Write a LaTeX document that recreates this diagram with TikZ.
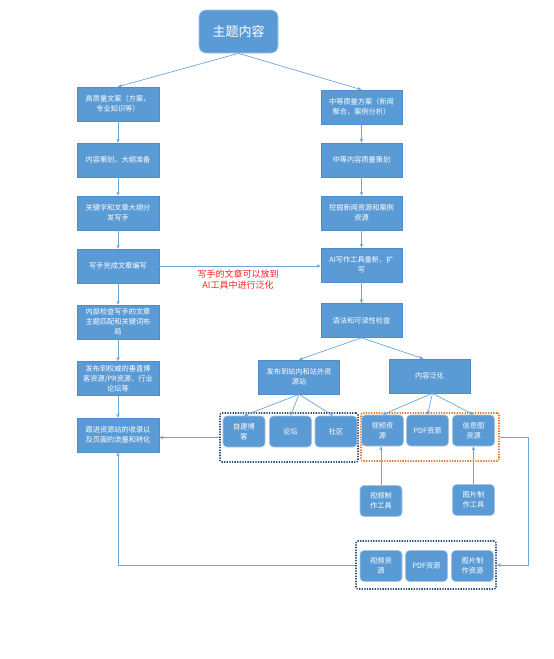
\documentclass[tikz,border=0pt]{standalone}
\usepackage{fontspec}
\setmainfont{Noto Sans CJK SC}
\usetikzlibrary{arrows.meta}
\definecolor{boxfill}{HTML}{5B9BD5}
\definecolor{boxline}{HTML}{4F8CC9}
\definecolor{softline}{HTML}{A9C4E0}
\definecolor{conn}{HTML}{6FA6DA}
\definecolor{navy}{HTML}{2E4F7C}
\definecolor{orng}{HTML}{E27A2E}
\definecolor{redtxt}{HTML}{FF2020}
\tikzset{
  sqbox/.style={draw=boxline, line width=0.6pt, fill=boxfill, text=white, align=center,
    inner sep=1pt, font=\fontsize{7.2}{10}\selectfont},
  rbox/.style={draw=softline, line width=0.6pt, fill=boxfill, text=white, align=center,
    rounded corners=4pt, inner sep=1pt, font=\fontsize{7.2}{10}\selectfont,
    minimum width=42pt, minimum height=31pt},
  titlebox/.style={draw=softline, line width=0.7pt, fill=boxfill, text=white, align=center,
    rounded corners=7pt, font=\fontsize{13}{15}\selectfont, minimum width=79pt, minimum height=43pt},
  arr/.style={draw=conn, line width=0.7pt, -{Stealth[length=4pt,width=3.5pt]}},
  dotcont/.style={draw=#1, line width=1.6pt, dash pattern=on 1.3pt off 1.3pt, rounded corners=2pt,
    minimum width=0pt, minimum height=0pt, inner sep=0pt},
}
\begin{document}
\begin{tikzpicture}[x=1pt,y=-1pt]
\useasboundingbox (0,0) rectangle (554,659);
\fill[white] (0,0) rectangle (554,659);

% containers
\node[dotcont=navy, minimum width=138pt, minimum height=49pt] (bc) at (289,437.5) {};
\node[dotcont=orng, minimum width=138pt, minimum height=48pt] (oc) at (430,437) {};
\node[dotcont=navy, minimum width=140pt, minimum height=48pt] (btc) at (426,565) {};

% title
\node[titlebox] (top) at (238.5,31.5) {主题内容};

% left column
\begin{scope}[every node/.style={sqbox, minimum width=82pt, minimum height=34pt}]
\node (L1) at (118,104) {高质量文案（方案，\\专业知识等）};
\node (L2) at (118,160) {内容策划，大纲准备};
\node (L3) at (118,213) {关键字和文章大纲分\\发写手};
\node (L4) at (118,266) {写手完成文章编写};
\node (L5) at (118,322) {内部检查写手的文章\\主题匹配和关键词布\\局};
\node (L6) at (118,378.5) {发布到权威的垂直博\\客资源/PR资源，行业\\论坛等};
\node (L7) at (118,435) {跟进资源站的收录以\\及页面的流量和转化};
\end{scope}

% right column
\begin{scope}[every node/.style={sqbox, minimum width=81pt, minimum height=34pt}]
\node (R1) at (361.5,107) {中等质量方案（新闻\\聚合，案例分析）};
\node (R2) at (361.5,160) {中等内容质量策划};
\node (R3) at (361.5,213) {挖掘新闻资源和案例\\资源};
\node (R4) at (361.5,265) {AI写作工具重新，扩\\写};
\node (R5) at (361.5,320.5) {语法和可读性检查};
\node (P) at (299,377) {发布到站内和站外资\\源站};
\node (G) at (429.5,376) {内容泛化};
\end{scope}

% small boxes
\node[rbox] (s1) at (244,431.5) {自建博\\客};
\node[rbox] (s2) at (290.5,431.5) {论坛};
\node[rbox] (s3) at (336,431.5) {社区};
\node[rbox] (s4) at (382.5,430.5) {视频资\\源};
\node[rbox] (s5) at (427.5,430.5) {PDF资源};
\node[rbox] (s6) at (473.5,430.5) {信息图\\资源};
\node[rbox] (t1) at (381,501) {视频制\\作工具};
\node[rbox] (t2) at (473.5,500) {图片制\\作工具};
\node[rbox] (b1) at (381,566) {视频资\\源};
\node[rbox] (b2) at (426.5,566) {PDF资源};
\node[rbox] (b3) at (472.5,566) {图片制\\作资源};

% red label
\node[text=redtxt, align=center, font=\fontsize{9}{11}\selectfont] (lbl) at (238,279.5) {写手的文章可以放到\\AI工具中进行泛化};

% connectors
\draw[arr] (top.south) -- (L1.north);
\draw[arr] (top.south) -- (R1.north);
\draw[arr] (L1) -- (L2);
\draw[arr] (L2) -- (L3);
\draw[arr] (L3) -- (L4);
\draw[arr] (L4) -- (L5);
\draw[arr] (L5) -- (L6);
\draw[arr] (L6) -- (L7);
\draw[arr] (R1) -- (R2);
\draw[arr] (R2) -- (R3);
\draw[arr] (R3) -- (R4);
\draw[arr] (R4) -- (R5);
\draw[arr] (L4.east) -- (L4.east -| R4.west);
\draw[arr] (R5.south) -- (P.north);
\draw[arr] (R5.south) -- ([xshift=-6pt]G.north);
\draw[arr] (P.south) -- (s1.north);
\draw[arr] (P.south) -- (s2.north);
\draw[arr] (P.south) -- ([xshift=-3pt]s3.north);
\draw[arr] ([xshift=3pt]G.south) -- (s4.north);
\draw[arr] ([xshift=3pt]G.south) -- (s5.north);
\draw[arr] ([xshift=3pt]G.south) -- (s6.north);
\draw[arr] (t1.north) -- (t1.north |- s4.south);
\draw[arr] (t2.north) -- (t2.north |- s6.south);
\draw[arr] (bc.west) -- (bc.west -| L7.east);
\coordinate (c1) at (528,437);
\coordinate (c2) at (528,565);
\draw[arr] (oc.east) -- (c1) -- (c2) -- (btc.east);
\draw[arr] (btc.west) -| (L7.south);
\end{tikzpicture}
\end{document}
